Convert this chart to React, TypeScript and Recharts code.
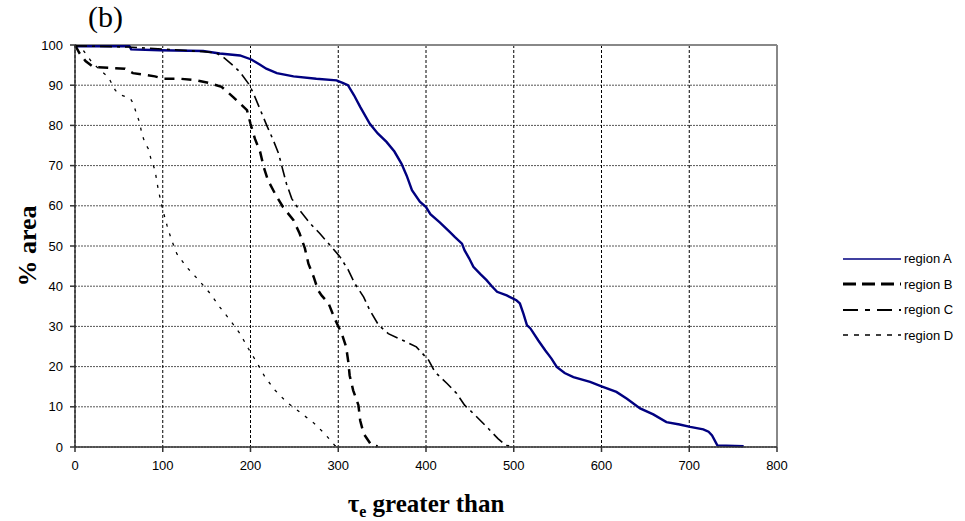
import React from 'react'
import { LineChart, Line, XAxis, YAxis, CartesianGrid, Legend, ReferenceLine, Label } from 'recharts'

// tau_e (x) and % area (y), one pair of arrays per region
const tauA = [0, 62, 64, 97, 146, 165, 188, 201, 210, 218, 230, 249, 275, 298, 305, 311, 318, 325, 336, 345, 355, 364, 372, 378, 384, 393, 400, 405, 416, 427, 433, 441, 444, 449, 454, 462, 469, 475, 481, 492, 503, 507, 511, 515, 519, 528, 536, 543, 549, 558, 568, 587, 600, 617, 629, 644, 659, 674, 689, 701, 716, 722, 726, 732, 762]
const areaA = [99.7, 99.7, 98.9, 98.7, 98.5, 97.9, 97.4, 96.4, 95.2, 94.1, 93, 92.2, 91.6, 91.2, 90.6, 90, 87.5, 84.6, 80.4, 78, 75.9, 73.5, 70.5, 67.5, 63.9, 61, 59.7, 57.9, 55.8, 53.5, 52.2, 50.6, 48.9, 47, 44.8, 43, 41.5, 40, 38.6, 37.7, 36.5, 35.7, 33.2, 30.3, 29.5, 26.5, 24, 22, 19.9, 18.4, 17.4, 16.2, 15.1, 13.7, 12, 9.6, 8.1, 6.2, 5.6, 5, 4.4, 3.8, 2.9, 0.4, 0.2]

const tauB = [0, 5, 12, 21, 57, 66, 91, 101, 120, 139, 154, 167, 180, 196, 200, 205, 211, 215, 220, 228, 237, 249, 256, 262, 266, 272, 277, 281, 289, 296, 304, 309, 311.5, 313, 317, 323, 325, 329, 338, 345]
const areaB = [100, 98, 96, 94.5, 94.1, 93, 92.2, 91.6, 91.6, 91.2, 90.5, 89.6, 87.1, 83.8, 80.4, 76.7, 73.4, 69.7, 66.3, 63, 59.7, 56.4, 53.1, 49.4, 45.6, 42.3, 39, 37.7, 35.7, 31.9, 28.2, 24.9, 21.1, 17.8, 14.1, 10.4, 6.6, 3.3, 0.4, 0.2]

const tauC = [0, 60, 100, 150, 161, 170, 179, 188, 199, 205, 213, 218.5, 226, 232, 237, 241, 247, 254.5, 268, 279, 290.6, 302, 311.5, 319, 329, 336, 346, 357, 374, 389, 403, 410, 424, 435, 444, 456, 471, 482, 491, 500]
const areaC = [99.8, 99.5, 99, 98.3, 98, 96.8, 95.1, 93.3, 90, 87.1, 82.9, 80, 76.3, 73, 68.8, 65.5, 61.8, 59.3, 55.6, 53.1, 50.2, 47.3, 44, 40.6, 37.3, 34, 30.3, 28.2, 26.5, 24.9, 21.6, 18.7, 15.8, 13.3, 10.4, 7.9, 4.6, 2.1, 0.4, 0.2]

const tauD = [0, 10, 20, 30, 38, 46, 53, 63, 66.5, 70, 74, 76, 80, 83.5, 87, 91, 95, 100, 105, 110, 116, 127, 141, 154, 165, 177, 188, 197.5, 207, 216.5, 228, 241, 256, 272, 285, 296, 300]
const areaD = [100, 98.5, 95.5, 93.5, 92, 88.7, 87.5, 86.7, 85.4, 82.9, 80.5, 78, 75.5, 74.2, 71.3, 69, 63.9, 59, 55, 51.5, 48.1, 44.8, 41.5, 38.2, 34.8, 31.5, 28.2, 24.5, 21.1, 17.4, 14.1, 11.2, 8.7, 6, 3.2, 0.4, 0.2]

const seriesNames = ['region A', 'region B', 'region C', 'region D']
const xTicks = [0, 100, 200, 300, 400, 500, 600, 700, 800]
const yTicks = [0, 10, 20, 30, 40, 50, 60, 70, 80, 90, 100]

const toPoints = (xs: number[], ys: number[]) => xs.map((x, i) => ({ tau: x, area: ys[i] }))

const series = [
  { name: seriesNames[0], data: toPoints(tauA, areaA), stroke: '#000080', width: 2.4, dash: undefined, legendWidth: 1.5, legendDash: undefined },
  { name: seriesNames[1], data: toPoints(tauB, areaB), stroke: '#000', width: 2.5, dash: '10 7', legendWidth: 3, legendDash: '13 6' },
  { name: seriesNames[2], data: toPoints(tauC, areaC), stroke: '#000', width: 1.6, dash: '12 5 3 5', legendWidth: 2, legendDash: '15 7 5 7' },
  { name: seriesNames[3], data: toPoints(tauD, areaD), stroke: '#000', width: 1.3, dash: '3 7', legendWidth: 1.5, legendDash: '5 6' },
]

const sans = '"Liberation Sans", Arial, sans-serif'
const serif = '"Liberation Serif", "Times New Roman", serif'

const renderLegend = () => (
  <div style={{ fontFamily: sans, fontSize: 13, color: '#000' }}>
    {series.map((s) => (
      <div key={s.name} style={{ display: 'flex', alignItems: 'center', height: 25.5 }}>
        <svg width={58} height={10}>
          <line x1={0} y1={5} x2={58} y2={5} stroke={s.stroke} strokeWidth={s.legendWidth} strokeDasharray={s.legendDash} />
        </svg>
        <span style={{ marginLeft: 3 }}>{s.name}</span>
      </div>
    ))}
  </div>
)

const XTitle = (props: any) => {
  const vb = props.viewBox || {}
  const cx = vb.x + vb.width / 2
  return (
    <text x={cx} y={512} textAnchor="middle" fontFamily={serif} fontWeight="bold" fontSize={25} fill="#000">
      <tspan>τ</tspan>
      <tspan fontSize={16} dy={5}>e</tspan>
      <tspan dy={-5}> greater than</tspan>
    </text>
  )
}

const YTitle = (props: any) => {
  const vb = props.viewBox || {}
  const cy = vb.y + vb.height / 2
  return (
    <text x={36} y={cy} transform={`rotate(-90 36 ${cy})`} textAnchor="middle" fontFamily={serif} fontWeight="bold" fontSize={26} fill="#000">
      % area
    </text>
  )
}

export default function App() {
  return (
    <div style={{ position: 'absolute', left: 0, top: 0, width: 965, height: 521, background: '#fff' }}>
      <div style={{ position: 'absolute', left: 88, top: 0, fontFamily: serif, fontSize: 30, color: '#000' }}>(b)</div>
      <LineChart width={965} height={521} margin={{ top: 45, right: 188, bottom: 44, left: 0 }}>
        <CartesianGrid vertical={false} stroke="#555" strokeDasharray="2 1" />
        <CartesianGrid horizontal={false} stroke="#000" strokeDasharray="3 2" />
        <XAxis
          type="number"
          dataKey="tau"
          domain={[0, 800]}
          ticks={xTicks}
          allowDuplicatedCategory={false}
          height={30}
          tickSize={5}
          tickMargin={9}
          stroke="#333"
          strokeWidth={1.5}
          tick={{ fontFamily: sans, fontSize: 13, fill: '#000' }}
        >
          <Label content={<XTitle />} />
        </XAxis>
        <YAxis
          type="number"
          domain={[0, 100]}
          ticks={yTicks}
          width={75}
          tickSize={5}
          tickMargin={7}
          stroke="#333"
          strokeWidth={1.5}
          tick={{ fontFamily: sans, fontSize: 13, fill: '#000' }}
        >
          <Label content={<YTitle />} />
        </YAxis>
        <ReferenceLine y={100} stroke="#888" strokeWidth={2} />
        <ReferenceLine x={800} stroke="#888" strokeWidth={2} />
        {series.map((s) => (
          <Line
            key={s.name}
            data={s.data}
            dataKey="area"
            name={s.name}
            type="linear"
            stroke={s.stroke}
            strokeWidth={s.width}
            strokeDasharray={s.dash}
            dot={false}
            activeDot={false}
            isAnimationActive={false}
          />
        ))}
        <Legend
          layout="vertical"
          align="center"
          verticalAlign="middle"
          content={renderLegend}
          wrapperStyle={{ left: 843, top: 246, width: 120 }}
        />
      </LineChart>
    </div>
  )
}
